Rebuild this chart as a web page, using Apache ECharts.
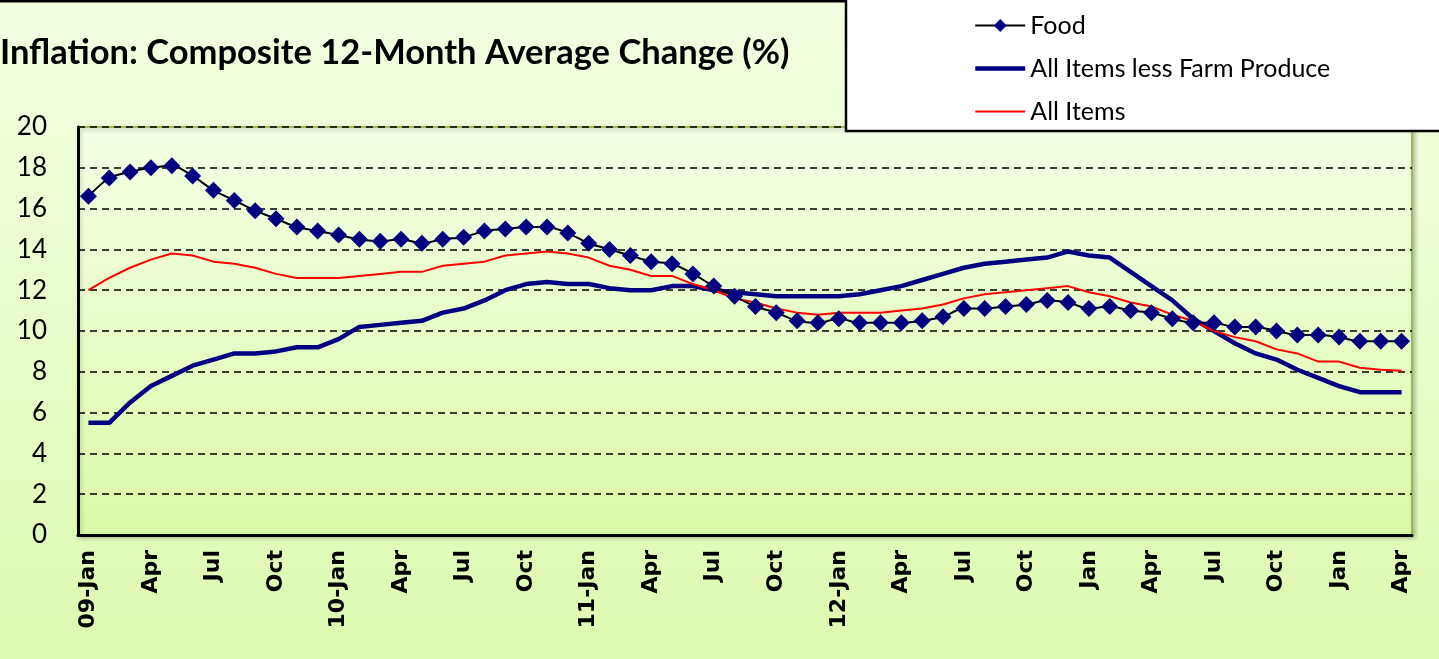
<!DOCTYPE html>
<html>
<head>
<meta charset="utf-8">
<script src="https://cdn.jsdelivr.net/npm/echarts@6/dist/echarts.min.js"></script>
<style>
  html, body { margin: 0; padding: 0; }
  #chart { width: 1439px; height: 659px; }
</style>
</head>
<body>
<div id="chart"></div>
<script>
// monthly, Jan 2009 - Apr 2014
var months = [
  '09-Jan','Feb','Mar','Apr','May','Jun','Jul','Aug','Sep','Oct','Nov','Dec',
  '10-Jan','Feb','Mar','Apr','May','Jun','Jul','Aug','Sep','Oct','Nov','Dec',
  '11-Jan','Feb','Mar','Apr','May','Jun','Jul','Aug','Sep','Oct','Nov','Dec',
  '12-Jan','Feb','Mar','Apr','May','Jun','Jul','Aug','Sep','Oct','Nov','Dec',
  'Jan','Feb','Mar','Apr','May','Jun','Jul','Aug','Sep','Oct','Nov','Dec',
  'Jan','Feb','Mar','Apr'
];

var food = [
  16.6,17.5,17.8,18.0,18.1,17.6,16.9,16.4,15.9,15.5,15.1,14.9,
  14.7,14.5,14.4,14.5,14.3,14.5,14.6,14.9,15.0,15.1,15.1,14.8,
  14.3,14.0,13.7,13.4,13.3,12.8,12.2,11.7,11.2,10.9,10.5,10.4,
  10.6,10.4,10.4,10.4,10.5,10.7,11.1,11.1,11.2,11.3,11.5,11.4,
  11.1,11.2,11.0,10.9,10.6,10.4,10.4,10.2,10.2,10.0,9.8,9.8,
  9.7,9.5,9.5,9.5
];

var lessFarm = [
  5.5,5.5,6.5,7.3,7.8,8.3,8.6,8.9,8.9,9.0,9.2,9.2,
  9.6,10.2,10.3,10.4,10.5,10.9,11.1,11.5,12.0,12.3,12.4,12.3,
  12.3,12.1,12.0,12.0,12.2,12.2,12.0,11.9,11.8,11.7,11.7,11.7,
  11.7,11.8,12.0,12.2,12.5,12.8,13.1,13.3,13.4,13.5,13.6,13.9,
  13.7,13.6,12.9,12.2,11.5,10.6,10.0,9.4,8.9,8.6,8.1,7.7,
  7.3,7.0,7.0,7.0
];

var allItems = [
  12.0,12.6,13.1,13.5,13.8,13.7,13.4,13.3,13.1,12.8,12.6,12.6,
  12.6,12.7,12.8,12.9,12.9,13.2,13.3,13.4,13.7,13.8,13.9,13.8,
  13.6,13.2,13.0,12.7,12.7,12.3,12.0,11.6,11.4,11.1,10.9,10.8,
  10.9,10.9,10.9,11.0,11.1,11.3,11.6,11.8,11.9,12.0,12.1,12.2,
  11.9,11.7,11.4,11.2,10.8,10.5,10.0,9.7,9.5,9.1,8.9,8.5,
  8.5,8.2,8.1,8.05
];

var chart = echarts.init(document.getElementById('chart'));

// line-only legend icon (hide the default marker)
var noMarker = { opacity: 0, color: 'rgba(0,0,0,0)', borderWidth: 0 };

var option = {
  backgroundColor: {
    type: 'linear', x: 0, y: 0, x2: 0, y2: 1,
    colorStops: [{ offset: 0, color: '#f3ffe2' }, { offset: 1, color: '#ddfab0' }]
  },
  animation: false,
  title: {
    text: 'Inflation: Composite 12-Month Average Change (%)',
    left: 0,
    top: 35,
    padding: 0,
    textStyle: { fontFamily: 'Lato', fontWeight: 'bold', fontSize: 34.5, color: '#000' }
  },
  graphic: [
    { type: 'line', shape: { x1: 0, y1: 1, x2: 846, y2: 1 }, style: { stroke: '#000', lineWidth: 3 } },
    { type: 'rect', shape: { x: 846, y: -3, width: 600, height: 134 },
      style: { fill: '#fff', stroke: '#000', lineWidth: 2.5 }, z: 1 }
  ],
  legend: {
    orient: 'vertical',
    left: 973,
    top: 13,
    padding: 0,
    itemWidth: 50,
    itemHeight: 16,
    itemGap: 18,
    itemTextGap: 9,
    textStyle: { fontFamily: 'Lato', fontSize: 25, color: '#000' },
    z: 5,
    data: [
      { name: 'Food' },
      { name: 'All Items less Farm Produce', itemStyle: noMarker, lineStyle: { width: 4.5 } },
      { name: 'All Items', itemStyle: noMarker, lineStyle: { width: 2 } }
    ]
  },
  grid: {
    left: 78, right: 27, top: 127, bottom: 124,
    show: true,
    borderColor: '#9bbb59',
    borderWidth: 2,
    shadowColor: 'rgba(0,0,0,0.25)',
    shadowBlur: 4,
    shadowOffsetX: 2,
    shadowOffsetY: 2,
    backgroundColor: {
      type: 'linear', x: 0, y: 0, x2: 0, y2: 1,
      colorStops: [{ offset: 0, color: '#f4ffe6' }, { offset: 1, color: '#dcfaa8' }]
    }
  },
  xAxis: {
    type: 'category',
    data: months,
    boundaryGap: true,
    axisLine: { lineStyle: { color: '#000', width: 3 } },
    axisTick: { show: false },
    axisLabel: {
      interval: 2,
      rotate: 90,
      margin: 15,
      fontFamily: 'DejaVu Sans',
      fontWeight: 'bold',
      fontSize: 22,
      color: '#000'
    }
  },
  yAxis: {
    type: 'value',
    min: 0, max: 20, interval: 2,
    axisLine: { show: true, lineStyle: { color: '#000', width: 3 } },
    axisTick: { show: false },
    axisLabel: { margin: 31, fontFamily: 'Lato', fontSize: 26, color: '#000' },
    splitLine: { lineStyle: { color: '#000', width: 1.6, type: [7, 5] } }
  },
  series: [
    {
      name: 'Food',
      type: 'line',
      data: food,
      smooth: 0.3,
      symbol: 'diamond',
      symbolSize: 17,
      showAllSymbol: true,
      lineStyle: { color: '#000', width: 2 },
      itemStyle: { color: '#000080' },
      z: 4
    },
    {
      name: 'All Items less Farm Produce',
      type: 'line',
      data: lessFarm,
      symbol: 'none',
      lineStyle: { color: '#000080', width: 4.5 },
      itemStyle: { color: '#000080' },
      z: 3
    },
    {
      name: 'All Items',
      type: 'line',
      data: allItems,
      symbol: 'none',
      lineStyle: { color: '#ff0000', width: 2 },
      itemStyle: { color: '#ff0000' },
      z: 3
    }
  ]
};

chart.setOption(option);
</script>
</body>
</html>
